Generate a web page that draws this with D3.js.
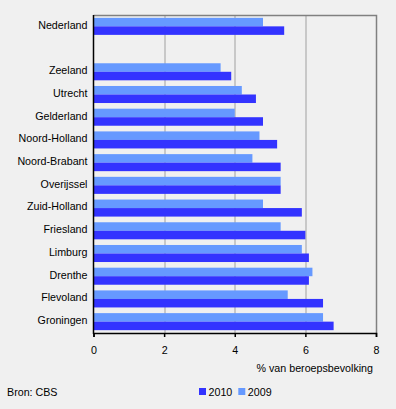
<!DOCTYPE html>
<html>
<head>
<meta charset="utf-8">
<script src="https://cdn.jsdelivr.net/npm/d3@7"></script>
<style>
  body { margin: 0; background: #f0f0f0; }
  svg { display: block; font-family: "Liberation Sans", Arial, sans-serif; }
  .grid line { stroke: #a0a0a0; }
  text { fill: #000; }
</style>
</head>
<body>
<div id="chart"></div>
<script>
// regions, top to bottom; "" is the empty slot under Nederland
var regions = ['Nederland', '', 'Zeeland', 'Utrecht', 'Gelderland', 'Noord-Holland', 'Noord-Brabant',
  'Overijssel', 'Zuid-Holland', 'Friesland', 'Limburg', 'Drenthe', 'Flevoland', 'Groningen'];
var values2009 = [4.8, null, 3.6, 4.2, 4.0, 4.7, 4.5, 5.3, 4.8, 5.3, 5.9, 6.2, 5.5, 6.5];
var values2010 = [5.4, null, 3.9, 4.6, 4.8, 5.2, 5.3, 5.3, 5.9, 6.0, 6.1, 6.1, 6.5, 6.8];
var xTicks = [0, 2, 4, 6, 8];
var seriesNames = ['2010', '2009'];
var colors = { '2010': '#3333ff', '2009': '#6699ff' };

var width = 396, height = 409;
var margin = { top: 15, right: 20, bottom: 76, left: 93.5 };
var chartWidth = width - margin.left - margin.right,
    chartHeight = height - margin.top - margin.bottom;
var fontSize = '10.7px';

var svg = d3.select('#chart').append('svg')
    .attr('width', width)
    .attr('height', height);
svg.append('rect').attr('width', width).attr('height', height).attr('fill', '#f0f0f0');

var g = svg.append('g')
    .attr('transform', 'translate(' + margin.left + ',' + margin.top + ')');

var x = d3.scaleLinear().domain([0, 8]).range([0, chartWidth]);
var y = d3.scaleBand().domain(d3.range(regions.length)).range([0, chartHeight])
    .paddingInner(0.25).paddingOuter(0.125);
var sub = d3.scaleBand().domain(['2009', '2010']).range([0, y.bandwidth()]);

// gridlines
g.append('g').attr('class', 'grid')
  .selectAll('line').data(xTicks.slice(1, -1)).enter().append('line')
    .attr('x1', function (d) { return Math.round(x(d)) + 0.5; })
    .attr('x2', function (d) { return Math.round(x(d)) + 0.5; })
    .attr('y1', 0).attr('y2', chartHeight);

// frame top/right
g.append('path')
    .attr('d', 'M0,0.5H' + (chartWidth + 0.5) + 'V' + chartHeight)
    .attr('fill', 'none').attr('stroke', '#808080').attr('stroke-width', 1.5);

var rows = regions.map(function (r, i) {
  return { i: i, name: r, '2009': values2009[i], '2010': values2010[i] };
}).filter(function (d) { return d.name !== ''; });

['2009', '2010'].forEach(function (s) {
  g.selectAll('rect.bar' + s).data(rows).enter().append('rect')
      .attr('class', 'bar' + s)
      .attr('x', x(0))
      .attr('y', function (d) { return y(d.i) + sub(s); })
      .attr('width', function (d) { return x(d[s]) - x(0); })
      .attr('height', sub.bandwidth())
      .attr('fill', colors[s]);
});

// category labels
g.selectAll('text.cat').data(rows).enter().append('text')
    .attr('class', 'cat')
    .attr('x', -6)
    .attr('y', function (d) { return y(d.i) + y.bandwidth() / 2 - 0.5; })
    .attr('text-anchor', 'end')
    .attr('dominant-baseline', 'middle')
    .style('font-size', fontSize)
    .text(function (d) { return d.name; });

// left axis line
g.append('line').attr('x1', 0).attr('x2', 0).attr('y1', 0).attr('y2', chartHeight + 1)
    .attr('stroke', '#000').attr('stroke-width', 1.5);

// bottom axis
var xAxis = d3.axisBottom(x).tickValues(xTicks).tickSize(4).tickPadding(9);
var ax = g.append('g')
    .attr('transform', 'translate(0,' + chartHeight + ')')
    .call(xAxis);
ax.select('.domain').attr('stroke', '#000').attr('stroke-width', 1.5);
ax.selectAll('.tick line').attr('stroke', '#000').attr('stroke-width', 1.5);
ax.selectAll('.tick text').style('font-size', fontSize).style('font-family', '"Liberation Sans", Arial, sans-serif')
    .attr('fill', '#000');

svg.append('text')
    .attr('x', 373).attr('y', 372)
    .attr('text-anchor', 'end')
    .style('font-size', fontSize)
    .text('% van beroepsbevolking');

svg.append('text')
    .attr('x', 7).attr('y', 396)
    .style('font-size', fontSize)
    .text('Bron: CBS');

// legend
var legend = svg.append('g').attr('transform', 'translate(199,388)');
var legX = [0, 39.3];
seriesNames.forEach(function (s, i) {
  legend.append('rect')
      .attr('x', legX[i]).attr('y', 0)
      .attr('width', 7).attr('height', 7)
      .attr('fill', colors[s]);
  legend.append('text')
      .attr('x', legX[i] + 9.5).attr('y', 8)
      .style('font-size', fontSize)
      .text(s);
});
</script>
</body>
</html>
